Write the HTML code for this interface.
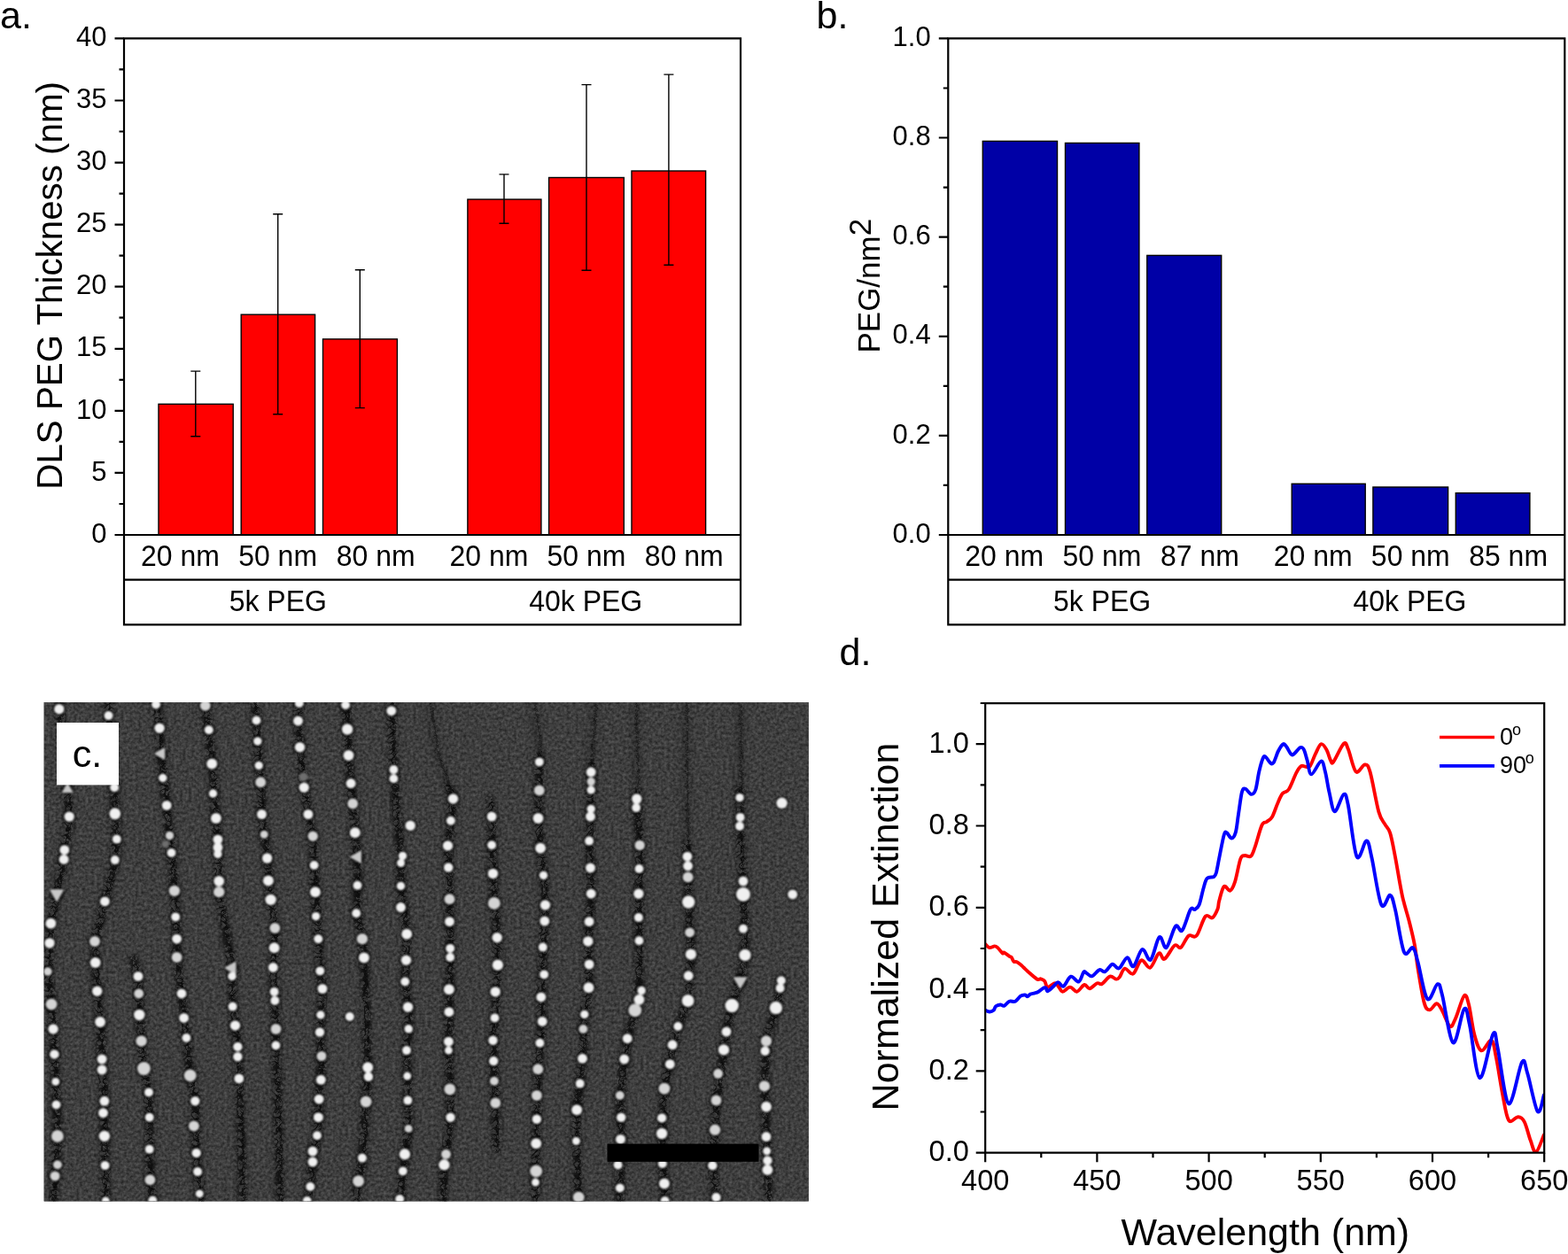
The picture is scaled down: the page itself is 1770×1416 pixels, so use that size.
<!DOCTYPE html>
<html><head><meta charset="utf-8"><title>Figure</title>
<style>html,body{margin:0;padding:0;background:#fff;} svg{display:block;} text{font-family:'Liberation Sans', Arial, sans-serif;fill:#000;}</style>
</head><body>
<svg width="1770" height="1416" viewBox="0 0 1770 1416">
<rect width="1770" height="1416" fill="#fff"/>
<g transform="translate(0,0)">
<rect x="179" y="456.3" width="84.2" height="147.7" fill="#ff0000" stroke="#000" stroke-width="1.4"/>
<rect x="272.2" y="355.2" width="83.4" height="248.8" fill="#ff0000" stroke="#000" stroke-width="1.4"/>
<rect x="364.5" y="382.9" width="83.9" height="221.1" fill="#ff0000" stroke="#000" stroke-width="1.4"/>
<rect x="527.9" y="225.1" width="83.0" height="378.9" fill="#ff0000" stroke="#000" stroke-width="1.4"/>
<rect x="619.6" y="200.5" width="84.7" height="403.5" fill="#ff0000" stroke="#000" stroke-width="1.4"/>
<rect x="713" y="193.0" width="83.6" height="411.0" fill="#ff0000" stroke="#000" stroke-width="1.4"/>
<path d="M220.8 419.1V492.8M215.3 419.1H226.3M215.3 492.8H226.3" stroke="#000" stroke-width="1.4" fill="none"/>
<path d="M313.7 241.7V467.7M308.2 241.7H319.2M308.2 467.7H319.2" stroke="#000" stroke-width="1.4" fill="none"/>
<path d="M406.3 304.7V460.6M400.8 304.7H411.8M400.8 460.6H411.8" stroke="#000" stroke-width="1.4" fill="none"/>
<path d="M569.0 196.9V252.2M563.5 196.9H574.5M563.5 252.2H574.5" stroke="#000" stroke-width="1.4" fill="none"/>
<path d="M662.0 95.6V305.3M656.5 95.6H667.5M656.5 305.3H667.5" stroke="#000" stroke-width="1.4" fill="none"/>
<path d="M754.9 84.1V299.3M749.4 84.1H760.4M749.4 299.3H760.4" stroke="#000" stroke-width="1.4" fill="none"/>
<path d="M140.0 43.4H836.0V705.3H140.0Z M140.0 604.0H836.0 M140.0 654.6H836.0" stroke="#000" stroke-width="2.2" fill="none" stroke-linecap="square"/>
<path d="M129.5 604.0H140.0M129.5 533.9H140.0M129.5 463.9H140.0M129.5 393.8H140.0M129.5 323.7H140.0M129.5 253.6H140.0M129.5 183.6H140.0M129.5 113.5H140.0M129.5 43.4H140.0M134.5 569.0H140.0M134.5 498.9H140.0M134.5 428.8H140.0M134.5 358.7H140.0M134.5 288.7H140.0M134.5 218.6H140.0M134.5 148.5H140.0M134.5 78.4H140.0" stroke="#000" stroke-width="2.2" fill="none"/>
<text transform="translate(120.4,612.6) scale(1,1.035)" text-anchor="end" font-size="31">0</text>
<text transform="translate(120.4,542.5) scale(1,1.035)" text-anchor="end" font-size="31">5</text>
<text transform="translate(120.4,472.5) scale(1,1.035)" text-anchor="end" font-size="31">10</text>
<text transform="translate(120.4,402.4) scale(1,1.035)" text-anchor="end" font-size="31">15</text>
<text transform="translate(120.4,332.3) scale(1,1.035)" text-anchor="end" font-size="31">20</text>
<text transform="translate(120.4,262.2) scale(1,1.035)" text-anchor="end" font-size="31">25</text>
<text transform="translate(120.4,192.2) scale(1,1.035)" text-anchor="end" font-size="31">30</text>
<text transform="translate(120.4,122.1) scale(1,1.035)" text-anchor="end" font-size="31">35</text>
<text transform="translate(120.4,52.0) scale(1,1.035)" text-anchor="end" font-size="31">40</text>
<text transform="translate(203.4,639.3) scale(1,1.025)" text-anchor="middle" font-size="32">20 nm</text>
<text transform="translate(313.6,639.3) scale(1,1.025)" text-anchor="middle" font-size="32">50 nm</text>
<text transform="translate(424.2,639.3) scale(1,1.025)" text-anchor="middle" font-size="32">80 nm</text>
<text transform="translate(551.9,639.3) scale(1,1.025)" text-anchor="middle" font-size="32">20 nm</text>
<text transform="translate(662.0,639.3) scale(1,1.025)" text-anchor="middle" font-size="32">50 nm</text>
<text transform="translate(772.3,639.3) scale(1,1.025)" text-anchor="middle" font-size="32">80 nm</text>
<text transform="translate(313.8,689.8) scale(1,1.03)" text-anchor="middle" font-size="32">5k PEG</text>
<text transform="translate(661.2,689.8) scale(1,1.03)" text-anchor="middle" font-size="32">40k PEG</text>
</g>
<g transform="translate(930.3,0)">
<rect x="179" y="159.4" width="84.2" height="444.6" fill="#0000a6" stroke="#000" stroke-width="1.4"/>
<rect x="272.2" y="161.5" width="83.4" height="442.5" fill="#0000a6" stroke="#000" stroke-width="1.4"/>
<rect x="364.5" y="288.4" width="83.9" height="315.6" fill="#0000a6" stroke="#000" stroke-width="1.4"/>
<rect x="527.9" y="546.3" width="83.0" height="57.7" fill="#0000a6" stroke="#000" stroke-width="1.4"/>
<rect x="619.6" y="550.0" width="84.7" height="54.0" fill="#0000a6" stroke="#000" stroke-width="1.4"/>
<rect x="713" y="556.7" width="83.6" height="47.3" fill="#0000a6" stroke="#000" stroke-width="1.4"/>
<path d="M140.0 43.4H836.0V705.3H140.0Z M140.0 604.0H836.0 M140.0 654.6H836.0" stroke="#000" stroke-width="2.2" fill="none" stroke-linecap="square"/>
<path d="M129.5 604.0H140.0M129.5 491.9H140.0M129.5 379.8H140.0M129.5 267.6H140.0M129.5 155.5H140.0M129.5 43.4H140.0M134.5 547.9H140.0M134.5 435.8H140.0M134.5 323.7H140.0M134.5 211.6H140.0M134.5 99.5H140.0" stroke="#000" stroke-width="2.2" fill="none"/>
<text transform="translate(120.4,612.6) scale(1,1.035)" text-anchor="end" font-size="31">0.0</text>
<text transform="translate(120.4,500.5) scale(1,1.035)" text-anchor="end" font-size="31">0.2</text>
<text transform="translate(120.4,388.4) scale(1,1.035)" text-anchor="end" font-size="31">0.4</text>
<text transform="translate(120.4,276.2) scale(1,1.035)" text-anchor="end" font-size="31">0.6</text>
<text transform="translate(120.4,164.1) scale(1,1.035)" text-anchor="end" font-size="31">0.8</text>
<text transform="translate(120.4,52.0) scale(1,1.035)" text-anchor="end" font-size="31">1.0</text>
<text transform="translate(203.4,639.3) scale(1,1.025)" text-anchor="middle" font-size="32">20 nm</text>
<text transform="translate(313.6,639.3) scale(1,1.025)" text-anchor="middle" font-size="32">50 nm</text>
<text transform="translate(424.2,639.3) scale(1,1.025)" text-anchor="middle" font-size="32">87 nm</text>
<text transform="translate(551.9,639.3) scale(1,1.025)" text-anchor="middle" font-size="32">20 nm</text>
<text transform="translate(662.0,639.3) scale(1,1.025)" text-anchor="middle" font-size="32">50 nm</text>
<text transform="translate(772.3,639.3) scale(1,1.025)" text-anchor="middle" font-size="32">85 nm</text>
<text transform="translate(313.8,689.8) scale(1,1.03)" text-anchor="middle" font-size="32">5k PEG</text>
<text transform="translate(661.2,689.8) scale(1,1.03)" text-anchor="middle" font-size="32">40k PEG</text>
</g>
<text transform="translate(69.9,322.4) rotate(-90)" text-anchor="middle" font-size="40.3">DLS PEG Thickness (nm)</text>
<text transform="translate(993.4,322.7) rotate(-90)" text-anchor="middle" font-size="35">PEG/nm<tspan dy="-10.5">2</tspan></text>
<text x="0" y="31.7" font-size="43">a.</text>
<text x="921.5" y="32" font-size="43">b.</text>
<text x="947.6" y="751.3" font-size="43">d.</text>
<path d="M1101.7 1301.7H1112.2M1101.7 1209.4H1112.2M1101.7 1117.1H1112.2M1101.7 1024.8H1112.2M1101.7 932.5H1112.2M1101.7 840.2H1112.2M1106.7 1255.5H1112.2M1106.7 1163.2H1112.2M1106.7 1071.0H1112.2M1106.7 978.7H1112.2M1106.7 886.4H1112.2M1106.7 794.0H1112.2M1112.2 1301.7V1312.2M1238.4 1301.7V1312.2M1364.6 1301.7V1312.2M1490.8 1301.7V1312.2M1617.0 1301.7V1312.2M1743.2 1301.7V1312.2M1175.3 1301.7V1307.2M1301.5 1301.7V1307.2M1427.7 1301.7V1307.2M1553.9 1301.7V1307.2M1680.1 1301.7V1307.2" stroke="#000" stroke-width="2.2" fill="none"/>
<text transform="translate(1093.9,1311.1) scale(1,1.035)" text-anchor="end" font-size="32.6">0.0</text>
<text transform="translate(1093.9,1218.8) scale(1,1.035)" text-anchor="end" font-size="32.6">0.2</text>
<text transform="translate(1093.9,1126.5) scale(1,1.035)" text-anchor="end" font-size="32.6">0.4</text>
<text transform="translate(1093.9,1034.2) scale(1,1.035)" text-anchor="end" font-size="32.6">0.6</text>
<text transform="translate(1093.9,941.9) scale(1,1.035)" text-anchor="end" font-size="32.6">0.8</text>
<text transform="translate(1093.9,849.6) scale(1,1.035)" text-anchor="end" font-size="32.6">1.0</text>
<text transform="translate(1112.2,1344.3) scale(1,1.035)" text-anchor="middle" font-size="32.6">400</text>
<text transform="translate(1238.4,1344.3) scale(1,1.035)" text-anchor="middle" font-size="32.6">450</text>
<text transform="translate(1364.6,1344.3) scale(1,1.035)" text-anchor="middle" font-size="32.6">500</text>
<text transform="translate(1490.8,1344.3) scale(1,1.035)" text-anchor="middle" font-size="32.6">550</text>
<text transform="translate(1617.0,1344.3) scale(1,1.035)" text-anchor="middle" font-size="32.6">600</text>
<text transform="translate(1743.2,1344.3) scale(1,1.035)" text-anchor="middle" font-size="32.6">650</text>
<text transform="translate(1014.2,1046.5) rotate(-90)" text-anchor="middle" font-size="43">Normalized Extinction</text>
<text x="1428.3" y="1406" text-anchor="middle" font-size="43">Wavelength (nm)</text>
<clipPath id="dclip"><rect x="1112" y="794" width="631.2" height="507.7"/></clipPath><g clip-path="url(#dclip)" fill="none" stroke-width="3.9" stroke-linejoin="round" stroke-linecap="round"><path d="M1111.8 1065.8C1112.7 1066.5 1115.1 1069.7 1116.9 1070.1C1118.7 1070.5 1121.2 1068.4 1122.8 1068.4C1124.3 1068.4 1124.7 1068.8 1126.2 1070.1C1127.7 1071.4 1130.5 1075.5 1131.7 1076.4C1132.9 1077.3 1132.1 1075.0 1133.4 1075.6C1134.7 1076.2 1138.0 1078.9 1139.4 1079.8C1140.8 1080.7 1141.1 1080.1 1141.9 1081.1C1142.7 1082.1 1143.4 1084.9 1144.4 1085.8C1145.4 1086.7 1146.5 1085.6 1147.8 1086.2C1149.1 1086.8 1150.8 1088.2 1152.1 1089.2C1153.4 1090.2 1154.1 1091.2 1155.5 1092.5C1156.9 1093.8 1158.0 1095.0 1160.5 1097.2C1163.0 1099.4 1168.3 1104.4 1170.7 1105.7C1173.1 1107.0 1173.5 1105.0 1174.9 1105.3C1176.3 1105.6 1177.9 1106.2 1179.2 1107.8C1180.5 1109.3 1180.6 1114.2 1182.6 1114.6C1184.6 1115.0 1189.0 1110.3 1191.1 1110.3C1193.2 1110.3 1193.9 1113.0 1195.3 1114.6C1196.7 1116.2 1197.4 1119.7 1199.5 1119.7C1201.6 1119.7 1205.3 1114.6 1208.0 1114.6C1210.7 1114.6 1212.9 1120.1 1215.6 1119.7C1218.3 1119.3 1221.7 1112.6 1224.1 1112.0C1226.5 1111.4 1227.6 1116.6 1230.0 1116.3C1232.4 1116.0 1236.2 1111.2 1238.5 1110.3C1240.8 1109.4 1241.6 1112.3 1244.0 1111.0C1246.4 1109.7 1250.3 1103.5 1252.9 1102.6C1255.5 1101.7 1258.0 1105.4 1259.8 1105.6C1261.6 1105.8 1262.0 1105.6 1263.7 1103.6C1265.4 1101.6 1267.1 1094.4 1269.7 1093.7C1272.3 1093.0 1276.0 1101.2 1279.1 1099.6C1282.2 1098.0 1285.2 1085.4 1288.4 1084.3C1291.6 1083.2 1295.0 1094.0 1298.3 1092.7C1301.6 1091.4 1305.5 1078.1 1308.2 1076.4C1310.9 1074.8 1311.6 1084.3 1314.6 1082.8C1317.6 1081.3 1323.0 1069.6 1326.0 1067.5C1329.0 1065.4 1330.3 1071.8 1332.9 1070.0C1335.5 1068.2 1338.8 1058.8 1341.8 1056.6C1344.8 1054.4 1347.6 1060.2 1350.7 1056.6C1353.8 1053.0 1357.6 1038.3 1360.6 1034.9C1363.6 1031.5 1366.2 1037.8 1368.5 1036.4C1370.8 1035.0 1373.2 1029.7 1374.5 1026.5C1375.8 1023.3 1375.0 1021.5 1376.2 1017.3C1377.4 1013.0 1379.6 1002.9 1381.7 1001.0C1383.8 999.1 1386.5 1006.6 1388.6 1005.7C1390.7 1004.8 1392.1 1001.6 1394.1 995.6C1396.0 989.6 1398.5 974.8 1400.3 969.9C1402.1 965.0 1403.0 966.6 1405.0 966.1C1407.0 965.6 1410.1 968.4 1412.0 966.8C1413.9 965.2 1414.5 962.5 1416.6 956.7C1418.7 950.9 1422.2 936.7 1424.4 931.9C1426.6 927.1 1427.9 929.6 1429.8 928.0C1431.7 926.4 1433.9 926.0 1436.0 922.5C1438.1 919.0 1440.3 911.4 1442.3 907.0C1444.2 902.6 1445.6 898.7 1447.7 896.1C1449.8 893.5 1452.1 895.4 1454.7 891.5C1457.3 887.6 1460.9 877.2 1463.2 872.8C1465.5 868.4 1466.9 866.3 1468.7 865.1C1470.5 863.9 1472.4 865.8 1474.1 865.8C1475.8 865.8 1477.0 867.5 1478.8 865.1C1480.6 862.7 1482.9 855.2 1485.0 851.1C1487.1 847.0 1489.1 841.0 1491.2 840.2C1493.3 839.4 1495.6 843.3 1497.4 846.4C1499.2 849.5 1500.8 856.5 1502.1 858.8C1503.4 861.1 1502.8 863.6 1505.2 860.4C1507.7 857.2 1514.0 842.2 1516.8 839.8C1519.6 837.3 1519.5 840.4 1521.8 845.7C1524.1 851.0 1527.5 868.4 1530.6 871.4C1533.7 874.4 1537.8 863.5 1540.5 863.5C1543.2 863.5 1543.8 862.5 1546.5 871.4C1549.2 880.3 1553.6 907.0 1556.4 916.9C1559.2 926.8 1561.2 926.8 1563.3 930.7C1565.4 934.7 1567.2 934.3 1569.2 940.6C1571.2 946.9 1572.8 956.4 1575.1 968.3C1577.4 980.2 1580.3 999.6 1583.0 1011.8C1585.7 1024.0 1588.7 1032.3 1591.0 1041.5C1593.3 1050.7 1595.3 1058.5 1596.9 1067.2C1598.5 1075.9 1598.8 1082.7 1600.6 1093.6C1602.4 1104.5 1605.5 1124.6 1607.7 1132.4C1609.9 1140.2 1611.5 1140.2 1613.8 1140.4C1616.1 1140.6 1619.4 1133.2 1621.8 1133.3C1624.2 1133.4 1625.5 1136.9 1628.0 1141.2C1630.5 1145.5 1634.3 1157.4 1636.8 1158.9C1639.3 1160.4 1640.3 1155.8 1643.0 1150.1C1645.7 1144.4 1650.2 1127.2 1652.7 1124.5C1655.2 1121.8 1656.1 1127.0 1658.0 1134.2C1659.9 1141.4 1661.9 1159.0 1664.2 1167.7C1666.5 1176.4 1668.9 1185.1 1672.1 1186.3C1675.3 1187.5 1680.8 1173.5 1683.6 1174.8C1686.4 1176.1 1686.8 1184.2 1688.9 1194.2C1691.0 1204.2 1693.7 1223.0 1696.0 1234.8C1698.3 1246.6 1700.1 1260.5 1703.0 1264.9C1705.9 1269.3 1710.6 1261.0 1713.6 1261.3C1716.5 1261.6 1718.3 1262.2 1720.7 1266.6C1723.1 1271.0 1725.5 1282.1 1727.7 1287.8C1729.9 1293.5 1731.4 1302.0 1733.9 1301.0C1736.4 1300.0 1741.3 1284.8 1742.8 1281.6" stroke="#ff0000"/><path d="M1111.8 1140.4C1112.7 1140.8 1115.3 1142.4 1116.9 1142.5C1118.5 1142.6 1120.4 1141.8 1121.6 1140.8C1122.8 1139.8 1122.8 1137.2 1124.1 1136.2C1125.4 1135.2 1127.7 1134.6 1129.2 1134.5C1130.8 1134.4 1131.7 1136.4 1133.4 1135.8C1135.1 1135.2 1137.3 1131.5 1139.4 1130.7C1141.5 1129.9 1144.0 1131.7 1146.1 1130.7C1148.2 1129.7 1150.2 1125.9 1152.1 1124.7C1153.9 1123.5 1155.9 1123.4 1157.2 1123.5C1158.5 1123.6 1158.7 1125.4 1159.7 1125.2C1160.7 1125.0 1161.7 1123.2 1163.1 1122.6C1164.5 1122.0 1166.7 1121.9 1168.2 1121.4C1169.8 1120.9 1170.7 1120.7 1172.4 1119.7C1174.1 1118.7 1176.9 1116.1 1178.3 1115.4C1179.7 1114.8 1180.1 1115.2 1180.8 1115.8C1181.5 1116.4 1181.3 1119.4 1182.6 1119.2C1183.9 1119.0 1186.5 1116.3 1188.5 1114.6C1190.5 1112.9 1192.4 1109.2 1194.4 1109.1C1196.4 1108.9 1198.0 1114.8 1200.4 1113.7C1202.8 1112.6 1205.9 1103.6 1208.8 1102.7C1211.7 1101.8 1215.3 1109.4 1217.7 1108.6C1220.1 1107.8 1221.8 1099.2 1223.3 1097.6C1224.8 1096.0 1225.0 1098.1 1226.6 1098.9C1228.1 1099.7 1230.2 1102.9 1232.6 1102.3C1235.0 1101.7 1238.6 1095.9 1241.1 1095.1C1243.6 1094.2 1245.0 1098.2 1247.4 1097.2C1249.8 1096.2 1253.1 1089.5 1255.3 1088.8C1257.5 1088.0 1259.3 1092.0 1260.8 1092.7C1262.3 1093.4 1262.2 1094.6 1264.2 1092.7C1266.2 1090.8 1270.0 1081.5 1272.6 1081.3C1275.1 1081.0 1276.7 1092.8 1279.5 1091.2C1282.3 1089.7 1286.2 1073.2 1289.4 1072.0C1292.6 1070.8 1295.6 1086.1 1298.8 1083.8C1302.0 1081.5 1305.7 1060.4 1308.7 1058.1C1311.7 1055.8 1313.5 1072.0 1316.6 1070.0C1319.6 1068.0 1324.0 1049.0 1327.0 1045.8C1330.0 1042.6 1331.6 1053.8 1334.4 1050.7C1337.2 1047.6 1341.4 1031.0 1343.8 1027.0C1346.2 1023.0 1347.1 1027.9 1348.8 1027.0C1350.5 1026.1 1352.1 1025.5 1353.7 1021.5C1355.3 1017.5 1357.1 1007.6 1358.6 1002.7C1360.1 997.8 1360.6 994.0 1362.6 991.9C1364.6 989.8 1368.8 991.1 1370.5 989.9C1372.2 988.7 1372.1 988.2 1373.1 984.7C1374.0 981.2 1374.8 976.2 1376.2 969.2C1377.6 962.2 1380.3 947.5 1381.7 942.7C1383.1 937.9 1383.4 939.8 1384.8 940.4C1386.2 941.0 1388.5 946.7 1390.2 946.6C1391.9 946.5 1393.6 944.1 1394.9 939.6C1396.2 935.1 1396.8 926.9 1398.0 919.4C1399.2 911.9 1400.6 899.4 1401.9 894.6C1403.2 889.8 1403.9 890.3 1405.7 890.7C1407.5 891.1 1410.8 896.8 1412.7 896.9C1414.7 897.0 1416.0 895.8 1417.4 891.5C1418.8 887.2 1419.9 877.3 1421.3 871.3C1422.7 865.3 1424.6 858.4 1425.9 855.7C1427.2 853.0 1427.7 854.1 1429.0 855.0C1430.3 855.9 1432.3 860.2 1433.7 861.2C1435.1 862.2 1436.0 863.4 1437.6 861.2C1439.1 859.0 1441.2 851.5 1443.0 848.0C1444.8 844.5 1447.0 841.0 1448.5 840.2C1450.0 839.4 1450.9 841.5 1452.3 843.3C1453.7 845.1 1455.7 849.7 1457.0 851.1C1458.3 852.5 1458.3 853.1 1460.1 851.9C1461.9 850.7 1466.0 845.0 1467.9 844.1C1469.9 843.2 1470.5 844.0 1471.8 846.4C1473.1 848.8 1474.3 854.1 1475.7 858.8C1477.1 863.5 1477.7 874.3 1480.3 874.4C1482.9 874.5 1488.6 860.1 1491.2 859.6C1493.8 859.1 1494.4 865.5 1495.9 871.3C1497.5 877.1 1498.7 887.1 1500.5 894.6C1502.3 902.1 1504.0 915.9 1506.7 916.3C1509.4 916.7 1514.3 898.3 1516.8 897.1C1519.3 895.9 1519.3 897.3 1521.8 909.0C1524.3 920.7 1528.1 960.5 1531.6 967.3C1535.0 974.0 1539.7 949.3 1542.5 949.5C1545.3 949.7 1545.6 956.3 1548.4 968.3C1551.2 980.3 1555.8 1014.6 1559.3 1021.7C1562.8 1028.8 1566.6 1009.8 1569.2 1010.8C1571.8 1011.8 1572.5 1016.9 1575.1 1027.6C1577.7 1038.3 1581.7 1068.0 1585.0 1075.1C1588.3 1082.2 1592.3 1068.2 1594.9 1070.1C1597.5 1072.0 1597.9 1076.8 1600.6 1086.5C1603.3 1096.2 1607.5 1123.9 1611.2 1128.0C1614.9 1132.1 1619.9 1111.9 1622.7 1111.2C1625.5 1110.5 1625.1 1112.6 1628.0 1123.6C1630.9 1134.6 1636.2 1174.8 1640.3 1177.4C1644.4 1180.1 1649.6 1142.9 1652.7 1139.5C1655.8 1136.1 1656.0 1144.1 1658.9 1157.1C1661.9 1170.0 1666.0 1215.4 1670.4 1217.2C1674.8 1219.0 1682.0 1173.3 1685.4 1167.7C1688.8 1162.1 1687.8 1170.5 1690.7 1183.6C1693.6 1196.7 1698.5 1243.6 1703.0 1246.3C1707.5 1249.0 1714.5 1205.2 1718.0 1199.5C1721.5 1193.8 1721.2 1202.6 1724.2 1211.9C1727.2 1221.2 1732.6 1251.0 1735.7 1255.1C1738.8 1259.2 1741.6 1239.7 1742.8 1236.6" stroke="#0000ff"/></g>
<path d="M1112.2 794.05H1743.2V1301.7H1112.2Z" stroke="#000" stroke-width="2.2" fill="none"/>
<path d="M1625 832.5H1687" stroke="#ff0000" stroke-width="3.6"/>
<path d="M1625 864.9H1687" stroke="#0000ff" stroke-width="3.6"/>
<text x="1693" y="841" font-size="27">0<tspan font-size="18" dx="-1" dy="-11">o</tspan></text>
<text x="1693" y="873.2" font-size="27">90<tspan font-size="18" dx="-1.2" dy="-11">o</tspan></text>
<defs>
<clipPath id="semclip"><rect x="49.6" y="793.0" width="863.2" height="563.6"/></clipPath>
<filter id="grain" x="0" y="0" width="100%" height="100%" color-interpolation-filters="sRGB"><feTurbulence type="fractalNoise" baseFrequency="0.3" numOctaves="2" seed="11"/><feColorMatrix type="matrix" values="0.28 0 0 0 0.105  0.28 0 0 0 0.105  0.28 0 0 0 0.105  0 0 0 0 1"/><feGaussianBlur stdDeviation="0.45"/></filter>
<filter id="crk" x="-10%" y="-2%" width="120%" height="104%" color-interpolation-filters="sRGB"><feTurbulence type="turbulence" baseFrequency="0.16" numOctaves="1" seed="9" result="n"/><feColorMatrix in="n" type="matrix" values="0 0 0 0 0  0 0 0 0 0  0 0 0 0 0  -18 0 0 0 2.7" result="nb"/><feGaussianBlur in="SourceAlpha" stdDeviation="2.5" result="m"/><feComposite in="nb" in2="m" operator="in" result="b"/><feGaussianBlur in="b" stdDeviation="0.75"/></filter>
<filter id="jag" x="-5%" y="-1%" width="110%" height="102%" color-interpolation-filters="sRGB"><feTurbulence type="turbulence" baseFrequency="0.3" numOctaves="2" seed="4" result="n"/><feDisplacementMap in="SourceGraphic" in2="n" scale="7" xChannelSelector="R" yChannelSelector="G"/></filter>
<filter id="streak" x="-20%" y="-2%" width="140%" height="104%"><feGaussianBlur stdDeviation="4 8"/></filter>
<filter id="soft" color-interpolation-filters="sRGB"><feGaussianBlur stdDeviation="0.8"/></filter>
<filter id="halo" color-interpolation-filters="sRGB"><feGaussianBlur stdDeviation="1.1"/></filter>
</defs>
<g clip-path="url(#semclip)">
<rect x="49.6" y="793.0" width="863.2" height="563.6" fill="#363636"/>
<rect x="49.6" y="793.0" width="863.2" height="563.6" filter="url(#grain)"/>
<g filter="url(#streak)" fill="none" stroke="#000" stroke-width="8" opacity="0.24"><path d="M66.0 793.0 L66.8 800.0 L76.0 891.0 L78.2 922.0 L72.8 960.0 L64.0 1009.0 L57.4 1043.0 L56.0 1065.0 L54.0 1097.0 L58.0 1134.0 L60.0 1162.0 L61.4 1190.0 L63.5 1247.0 L65.0 1283.0 L62.0 1328.0 L60.0 1357.0"/><path d="M122.0 793.0 L122.5 808.0 L129.2 889.0 L129.8 919.0 L131.8 948.0 L129.8 971.0 L118.4 1018.0 L107.0 1063.0 L107.7 1087.0 L109.7 1119.0 L113.0 1154.0 L115.0 1196.0 L117.9 1243.0 L117.9 1283.0 L118.6 1316.0 L119.3 1357.0"/><path d="M176.0 793.0 L180.0 822.0 L182.0 851.0 L188.0 909.0 L191.5 944.0 L193.5 963.0 L196.9 1006.0 L199.6 1060.0 L199.6 1081.0 L205.0 1122.0 L207.6 1149.0 L210.4 1172.0 L214.7 1214.0 L220.3 1243.0 L221.7 1302.0 L225.3 1348.0 L226.0 1357.0"/><path d="M150.0 1080.0 L156.0 1102.0 L157.3 1146.0 L159.6 1175.0 L162.4 1207.0 L168.0 1233.0 L168.7 1298.0 L169.4 1332.0 L172.3 1357.0"/><path d="M231.0 793.0 L235.8 824.0 L239.2 862.0 L243.9 924.0 L245.9 964.0 L247.2 1007.0 L262.0 1093.0 L262.6 1137.0 L265.5 1158.0 L268.4 1182.0 L269.8 1218.0 L272.0 1280.0 L274.0 1357.0"/><path d="M288.0 793.0 L289.5 813.0 L290.8 837.0 L294.2 883.0 L295.5 919.0 L301.6 969.0 L305.6 1016.0 L310.3 1048.0 L309.6 1070.0 L308.3 1092.0 L310.3 1130.0 L311.5 1162.0 L311.4 1180.0 L314.0 1260.0 L316.0 1357.0"/><path d="M337.8 793.0 L336.5 814.0 L338.5 844.0 L343.2 889.0 L347.9 919.0 L353.2 944.0 L354.6 977.0 L355.9 1007.0 L359.3 1060.0 L361.3 1096.0 L364.0 1116.0 L361.9 1146.0 L361.0 1165.0 L363.0 1192.0 L360.1 1241.0 L358.0 1282.0 L353.0 1306.0 L350.3 1340.0 L346.7 1357.0"/><path d="M390.0 793.0 L392.1 823.0 L393.5 853.0 L398.2 907.0 L400.8 940.0 L403.5 968.0 L403.5 1000.0 L402.2 1031.0 L408.9 1060.0 L410.9 1082.0 L413.0 1140.0 L415.2 1205.0 L413.1 1244.0 L408.9 1308.0 L404.6 1334.0 L402.0 1357.0"/><path d="M441.0 793.0 L441.8 803.0 L444.4 869.0 L448.0 920.0 L452.5 975.0 L452.5 1000.0 L459.2 1055.0 L458.5 1084.0 L457.2 1108.0 L460.5 1137.0 L461.2 1162.0 L459.0 1186.0 L460.4 1243.0 L461.1 1274.0 L456.9 1303.0 L451.2 1357.0"/><path d="M505.0 885.0 L511.5 902.0 L508.9 927.0 L505.5 955.0 L506.2 980.0 L507.5 1015.0 L508.2 1081.0 L506.9 1143.0 L506.4 1176.0 L507.8 1230.0 L508.5 1262.0 L501.4 1315.0 L500.0 1357.0"/><path d="M553.0 900.0 L555.1 922.0 L555.1 954.0 L556.5 986.0 L561.2 1059.0 L561.9 1090.0 L558.5 1149.0 L556.5 1175.0 L559.3 1245.0 L560.0 1300.0"/><path d="M608.5 850.0 L608.8 860.0 L607.5 924.0 L610.1 958.0 L613.5 988.0 L615.5 1022.0 L612.8 1070.0 L610.8 1126.0 L612.2 1153.0 L609.4 1178.0 L605.9 1237.0 L605.2 1291.0 L604.5 1335.0 L604.0 1357.0"/><path d="M667.0 860.0 L667.2 872.0 L666.5 922.0 L665.1 950.0 L666.5 980.0 L667.2 1009.0 L663.8 1063.0 L664.5 1115.0 L659.8 1145.0 L657.5 1195.0 L651.1 1253.0 L650.4 1288.0 L653.2 1357.0"/><path d="M718.8 890.0 L718.8 902.0 L722.2 954.0 L721.5 981.0 L720.9 1009.0 L721.5 1062.0 L721.5 1129.0 L716.8 1141.0 L708.2 1173.0 L704.7 1196.0 L699.8 1237.0 L700.5 1286.0 L699.8 1341.5 L699.0 1357.0"/><path d="M775.0 950.0 L775.9 967.0 L776.6 990.0 L777.2 1019.0 L779.9 1078.0 L776.6 1130.0 L765.3 1159.0 L759.1 1180.0 L749.9 1229.0 L747.1 1280.0 L749.9 1336.5 L750.6 1357.0"/><path d="M835.0 888.0 L835.0 901.0 L835.0 933.0 L839.0 1010.0 L841.0 1078.0 L835.6 1108.0 L826.2 1135.0 L820.0 1165.0 L817.0 1185.0 L808.5 1243.0 L807.1 1276.0 L804.3 1316.0 L808.5 1357.0"/><path d="M881.9 1102.0 L880.6 1116.0 L875.9 1138.0 L865.0 1175.5 L862.9 1226.0 L865.0 1284.0 L866.4 1321.0 L867.0 1357.0"/><path d="M602.0 793.0 L606.0 820.0 L608.5 850.0"/><path d="M485.0 793.0 L493.0 850.0 L505.0 885.0 L511.5 902.0"/><path d="M671.0 793.0 L669.0 830.0 L667.0 860.0"/><path d="M717.0 793.0 L718.0 850.0 L718.8 890.0"/><path d="M773.5 793.0 L774.0 880.0 L775.0 950.0"/><path d="M835.0 793.0 L835.0 850.0 L835.0 888.0"/></g>
<g filter="url(#jag)" fill="none" stroke="#000" stroke-width="2.5" opacity="0.35"><path d="M602.0 793.0 L606.0 820.0 L608.5 850.0"/><path d="M485.0 793.0 L493.0 850.0 L505.0 885.0 L511.5 902.0"/><path d="M671.0 793.0 L669.0 830.0 L667.0 860.0"/><path d="M717.0 793.0 L718.0 850.0 L718.8 890.0"/><path d="M773.5 793.0 L774.0 880.0 L775.0 950.0"/><path d="M835.0 793.0 L835.0 850.0 L835.0 888.0"/></g>
<g filter="url(#crk)" fill="none" stroke="#000" stroke-width="10" opacity="0.68"><path d="M66.0 793.0 L66.8 800.0 L76.0 891.0 L78.2 922.0 L72.8 960.0 L64.0 1009.0 L57.4 1043.0 L56.0 1065.0 L54.0 1097.0 L58.0 1134.0 L60.0 1162.0 L61.4 1190.0 L63.5 1247.0 L65.0 1283.0 L62.0 1328.0 L60.0 1357.0"/><path d="M122.0 793.0 L122.5 808.0 L129.2 889.0 L129.8 919.0 L131.8 948.0 L129.8 971.0 L118.4 1018.0 L107.0 1063.0 L107.7 1087.0 L109.7 1119.0 L113.0 1154.0 L115.0 1196.0 L117.9 1243.0 L117.9 1283.0 L118.6 1316.0 L119.3 1357.0"/><path d="M176.0 793.0 L180.0 822.0 L182.0 851.0 L188.0 909.0 L191.5 944.0 L193.5 963.0 L196.9 1006.0 L199.6 1060.0 L199.6 1081.0 L205.0 1122.0 L207.6 1149.0 L210.4 1172.0 L214.7 1214.0 L220.3 1243.0 L221.7 1302.0 L225.3 1348.0 L226.0 1357.0"/><path d="M150.0 1080.0 L156.0 1102.0 L157.3 1146.0 L159.6 1175.0 L162.4 1207.0 L168.0 1233.0 L168.7 1298.0 L169.4 1332.0 L172.3 1357.0"/><path d="M231.0 793.0 L235.8 824.0 L239.2 862.0 L243.9 924.0 L245.9 964.0 L247.2 1007.0 L262.0 1093.0 L262.6 1137.0 L265.5 1158.0 L268.4 1182.0 L269.8 1218.0 L272.0 1280.0 L274.0 1357.0"/><path d="M288.0 793.0 L289.5 813.0 L290.8 837.0 L294.2 883.0 L295.5 919.0 L301.6 969.0 L305.6 1016.0 L310.3 1048.0 L309.6 1070.0 L308.3 1092.0 L310.3 1130.0 L311.5 1162.0 L311.4 1180.0 L314.0 1260.0 L316.0 1357.0"/><path d="M337.8 793.0 L336.5 814.0 L338.5 844.0 L343.2 889.0 L347.9 919.0 L353.2 944.0 L354.6 977.0 L355.9 1007.0 L359.3 1060.0 L361.3 1096.0 L364.0 1116.0 L361.9 1146.0 L361.0 1165.0 L363.0 1192.0 L360.1 1241.0 L358.0 1282.0 L353.0 1306.0 L350.3 1340.0 L346.7 1357.0"/><path d="M390.0 793.0 L392.1 823.0 L393.5 853.0 L398.2 907.0 L400.8 940.0 L403.5 968.0 L403.5 1000.0 L402.2 1031.0 L408.9 1060.0 L410.9 1082.0 L413.0 1140.0 L415.2 1205.0 L413.1 1244.0 L408.9 1308.0 L404.6 1334.0 L402.0 1357.0"/><path d="M441.0 793.0 L441.8 803.0 L444.4 869.0 L448.0 920.0 L452.5 975.0 L452.5 1000.0 L459.2 1055.0 L458.5 1084.0 L457.2 1108.0 L460.5 1137.0 L461.2 1162.0 L459.0 1186.0 L460.4 1243.0 L461.1 1274.0 L456.9 1303.0 L451.2 1357.0"/><path d="M505.0 885.0 L511.5 902.0 L508.9 927.0 L505.5 955.0 L506.2 980.0 L507.5 1015.0 L508.2 1081.0 L506.9 1143.0 L506.4 1176.0 L507.8 1230.0 L508.5 1262.0 L501.4 1315.0 L500.0 1357.0"/><path d="M553.0 900.0 L555.1 922.0 L555.1 954.0 L556.5 986.0 L561.2 1059.0 L561.9 1090.0 L558.5 1149.0 L556.5 1175.0 L559.3 1245.0 L560.0 1300.0"/><path d="M608.5 850.0 L608.8 860.0 L607.5 924.0 L610.1 958.0 L613.5 988.0 L615.5 1022.0 L612.8 1070.0 L610.8 1126.0 L612.2 1153.0 L609.4 1178.0 L605.9 1237.0 L605.2 1291.0 L604.5 1335.0 L604.0 1357.0"/><path d="M667.0 860.0 L667.2 872.0 L666.5 922.0 L665.1 950.0 L666.5 980.0 L667.2 1009.0 L663.8 1063.0 L664.5 1115.0 L659.8 1145.0 L657.5 1195.0 L651.1 1253.0 L650.4 1288.0 L653.2 1357.0"/><path d="M718.8 890.0 L718.8 902.0 L722.2 954.0 L721.5 981.0 L720.9 1009.0 L721.5 1062.0 L721.5 1129.0 L716.8 1141.0 L708.2 1173.0 L704.7 1196.0 L699.8 1237.0 L700.5 1286.0 L699.8 1341.5 L699.0 1357.0"/><path d="M775.0 950.0 L775.9 967.0 L776.6 990.0 L777.2 1019.0 L779.9 1078.0 L776.6 1130.0 L765.3 1159.0 L759.1 1180.0 L749.9 1229.0 L747.1 1280.0 L749.9 1336.5 L750.6 1357.0"/><path d="M835.0 888.0 L835.0 901.0 L835.0 933.0 L839.0 1010.0 L841.0 1078.0 L835.6 1108.0 L826.2 1135.0 L820.0 1165.0 L817.0 1185.0 L808.5 1243.0 L807.1 1276.0 L804.3 1316.0 L808.5 1357.0"/><path d="M881.9 1102.0 L880.6 1116.0 L875.9 1138.0 L865.0 1175.5 L862.9 1226.0 L865.0 1284.0 L866.4 1321.0 L867.0 1357.0"/></g>
<g filter="url(#jag)" fill="none" stroke="#080808" stroke-width="2.2" stroke-dasharray="4 2.5 3 3.5" stroke-linecap="round" opacity="0.6"><path d="M66.0 793.0 L66.8 800.0 L76.0 891.0 L78.2 922.0 L72.8 960.0 L64.0 1009.0 L57.4 1043.0 L56.0 1065.0 L54.0 1097.0 L58.0 1134.0 L60.0 1162.0 L61.4 1190.0 L63.5 1247.0 L65.0 1283.0 L62.0 1328.0 L60.0 1357.0"/><path d="M122.0 793.0 L122.5 808.0 L129.2 889.0 L129.8 919.0 L131.8 948.0 L129.8 971.0 L118.4 1018.0 L107.0 1063.0 L107.7 1087.0 L109.7 1119.0 L113.0 1154.0 L115.0 1196.0 L117.9 1243.0 L117.9 1283.0 L118.6 1316.0 L119.3 1357.0"/><path d="M176.0 793.0 L180.0 822.0 L182.0 851.0 L188.0 909.0 L191.5 944.0 L193.5 963.0 L196.9 1006.0 L199.6 1060.0 L199.6 1081.0 L205.0 1122.0 L207.6 1149.0 L210.4 1172.0 L214.7 1214.0 L220.3 1243.0 L221.7 1302.0 L225.3 1348.0 L226.0 1357.0"/><path d="M150.0 1080.0 L156.0 1102.0 L157.3 1146.0 L159.6 1175.0 L162.4 1207.0 L168.0 1233.0 L168.7 1298.0 L169.4 1332.0 L172.3 1357.0"/><path d="M231.0 793.0 L235.8 824.0 L239.2 862.0 L243.9 924.0 L245.9 964.0 L247.2 1007.0 L262.0 1093.0 L262.6 1137.0 L265.5 1158.0 L268.4 1182.0 L269.8 1218.0 L272.0 1280.0 L274.0 1357.0"/><path d="M288.0 793.0 L289.5 813.0 L290.8 837.0 L294.2 883.0 L295.5 919.0 L301.6 969.0 L305.6 1016.0 L310.3 1048.0 L309.6 1070.0 L308.3 1092.0 L310.3 1130.0 L311.5 1162.0 L311.4 1180.0 L314.0 1260.0 L316.0 1357.0"/><path d="M337.8 793.0 L336.5 814.0 L338.5 844.0 L343.2 889.0 L347.9 919.0 L353.2 944.0 L354.6 977.0 L355.9 1007.0 L359.3 1060.0 L361.3 1096.0 L364.0 1116.0 L361.9 1146.0 L361.0 1165.0 L363.0 1192.0 L360.1 1241.0 L358.0 1282.0 L353.0 1306.0 L350.3 1340.0 L346.7 1357.0"/><path d="M390.0 793.0 L392.1 823.0 L393.5 853.0 L398.2 907.0 L400.8 940.0 L403.5 968.0 L403.5 1000.0 L402.2 1031.0 L408.9 1060.0 L410.9 1082.0 L413.0 1140.0 L415.2 1205.0 L413.1 1244.0 L408.9 1308.0 L404.6 1334.0 L402.0 1357.0"/><path d="M441.0 793.0 L441.8 803.0 L444.4 869.0 L448.0 920.0 L452.5 975.0 L452.5 1000.0 L459.2 1055.0 L458.5 1084.0 L457.2 1108.0 L460.5 1137.0 L461.2 1162.0 L459.0 1186.0 L460.4 1243.0 L461.1 1274.0 L456.9 1303.0 L451.2 1357.0"/><path d="M505.0 885.0 L511.5 902.0 L508.9 927.0 L505.5 955.0 L506.2 980.0 L507.5 1015.0 L508.2 1081.0 L506.9 1143.0 L506.4 1176.0 L507.8 1230.0 L508.5 1262.0 L501.4 1315.0 L500.0 1357.0"/><path d="M553.0 900.0 L555.1 922.0 L555.1 954.0 L556.5 986.0 L561.2 1059.0 L561.9 1090.0 L558.5 1149.0 L556.5 1175.0 L559.3 1245.0 L560.0 1300.0"/><path d="M608.5 850.0 L608.8 860.0 L607.5 924.0 L610.1 958.0 L613.5 988.0 L615.5 1022.0 L612.8 1070.0 L610.8 1126.0 L612.2 1153.0 L609.4 1178.0 L605.9 1237.0 L605.2 1291.0 L604.5 1335.0 L604.0 1357.0"/><path d="M667.0 860.0 L667.2 872.0 L666.5 922.0 L665.1 950.0 L666.5 980.0 L667.2 1009.0 L663.8 1063.0 L664.5 1115.0 L659.8 1145.0 L657.5 1195.0 L651.1 1253.0 L650.4 1288.0 L653.2 1357.0"/><path d="M718.8 890.0 L718.8 902.0 L722.2 954.0 L721.5 981.0 L720.9 1009.0 L721.5 1062.0 L721.5 1129.0 L716.8 1141.0 L708.2 1173.0 L704.7 1196.0 L699.8 1237.0 L700.5 1286.0 L699.8 1341.5 L699.0 1357.0"/><path d="M775.0 950.0 L775.9 967.0 L776.6 990.0 L777.2 1019.0 L779.9 1078.0 L776.6 1130.0 L765.3 1159.0 L759.1 1180.0 L749.9 1229.0 L747.1 1280.0 L749.9 1336.5 L750.6 1357.0"/><path d="M835.0 888.0 L835.0 901.0 L835.0 933.0 L839.0 1010.0 L841.0 1078.0 L835.6 1108.0 L826.2 1135.0 L820.0 1165.0 L817.0 1185.0 L808.5 1243.0 L807.1 1276.0 L804.3 1316.0 L808.5 1357.0"/><path d="M881.9 1102.0 L880.6 1116.0 L875.9 1138.0 L865.0 1175.5 L862.9 1226.0 L865.0 1284.0 L866.4 1321.0 L867.0 1357.0"/></g>
<g fill="#000" opacity="0.55" filter="url(#halo)"><circle cx="66.8" cy="800.7" r="7.9"/><circle cx="122.5" cy="808.1" r="7.2"/><circle cx="176.1" cy="795.4" r="7.2"/><circle cx="231.8" cy="796.7" r="8.2"/><circle cx="180.1" cy="822.2" r="8.0"/><circle cx="235.8" cy="824.2" r="7.2"/><circle cx="182.1" cy="851.0" r="7.7"/><circle cx="239.2" cy="862.4" r="8.2"/><circle cx="183.8" cy="878.5" r="7.0"/><circle cx="76.2" cy="891.3" r="7.2"/><circle cx="129.2" cy="889.3" r="7.2"/><circle cx="240.5" cy="896.0" r="7.0"/><circle cx="188.2" cy="909.4" r="7.7"/><circle cx="78.2" cy="922.1" r="7.9"/><circle cx="129.8" cy="918.8" r="8.7"/><circle cx="243.9" cy="924.1" r="8.2"/><circle cx="191.5" cy="943.6" r="7.0"/><circle cx="131.8" cy="947.6" r="7.2"/><circle cx="72.8" cy="959.7" r="7.7"/><circle cx="72.1" cy="970.4" r="7.7"/><circle cx="245.9" cy="948.0" r="7.7"/><circle cx="245.9" cy="957.0" r="7.7"/><circle cx="245.9" cy="964.4" r="7.0"/><circle cx="193.5" cy="963.0" r="7.2"/><circle cx="129.8" cy="971.1" r="7.2"/><circle cx="289.5" cy="813.5" r="7.2"/><circle cx="290.8" cy="837.0" r="7.0"/><circle cx="292.2" cy="864.5" r="7.0"/><circle cx="294.2" cy="883.2" r="8.2"/><circle cx="295.5" cy="919.5" r="7.7"/><circle cx="298.2" cy="942.3" r="6.7"/><circle cx="301.6" cy="969.1" r="8.0"/><circle cx="337.8" cy="794.0" r="7.2"/><circle cx="336.5" cy="814.1" r="7.7"/><circle cx="338.5" cy="843.7" r="8.0"/><circle cx="343.2" cy="889.3" r="8.0"/><circle cx="347.9" cy="919.5" r="7.7"/><circle cx="353.2" cy="944.3" r="8.0"/><circle cx="354.6" cy="977.0" r="7.2"/><circle cx="390.1" cy="796.0" r="7.2"/><circle cx="392.1" cy="823.5" r="8.4"/><circle cx="393.5" cy="853.0" r="8.2"/><circle cx="396.1" cy="884.6" r="7.7"/><circle cx="398.2" cy="907.4" r="8.2"/><circle cx="400.8" cy="940.2" r="8.2"/><circle cx="403.5" cy="967.7" r="8.2"/><circle cx="441.8" cy="802.7" r="7.7"/><circle cx="444.4" cy="869.1" r="7.2"/><circle cx="444.4" cy="879.2" r="7.2"/><circle cx="463.2" cy="932.2" r="8.0"/><circle cx="454.5" cy="966.4" r="7.0"/><circle cx="452.5" cy="974.5" r="6.7"/><circle cx="511.5" cy="902.0" r="8.0"/><circle cx="508.9" cy="926.8" r="7.2"/><circle cx="505.5" cy="955.0" r="8.0"/><circle cx="506.2" cy="979.5" r="7.5"/><circle cx="555.1" cy="922.1" r="7.7"/><circle cx="555.1" cy="954.3" r="7.2"/><circle cx="608.8" cy="860.4" r="7.2"/><circle cx="608.8" cy="892.6" r="8.2"/><circle cx="607.5" cy="924.1" r="8.2"/><circle cx="610.1" cy="957.7" r="8.2"/><circle cx="667.2" cy="871.8" r="7.7"/><circle cx="667.2" cy="882.6" r="7.0"/><circle cx="667.2" cy="892.0" r="7.0"/><circle cx="667.2" cy="913.4" r="7.0"/><circle cx="666.5" cy="922.1" r="7.7"/><circle cx="665.1" cy="949.6" r="7.2"/><circle cx="666.5" cy="980.0" r="7.7"/><circle cx="718.8" cy="902.1" r="8.0"/><circle cx="718.2" cy="912.1" r="7.2"/><circle cx="722.2" cy="954.4" r="8.0"/><circle cx="721.5" cy="981.0" r="7.2"/><circle cx="775.9" cy="967.2" r="7.7"/><circle cx="776.6" cy="977.8" r="7.7"/><circle cx="835.0" cy="900.7" r="7.0"/><circle cx="835.6" cy="922.9" r="7.2"/><circle cx="835.0" cy="932.9" r="7.2"/><circle cx="882.6" cy="906.8" r="8.4"/><circle cx="64.1" cy="1009.2" r="8.7"/><circle cx="57.4" cy="1042.7" r="8.2"/><circle cx="56.0" cy="1064.9" r="8.0"/><circle cx="54.0" cy="1097.1" r="7.0"/><circle cx="58.1" cy="1134.0" r="8.7"/><circle cx="60.1" cy="1162.0" r="8.0"/><circle cx="118.4" cy="1017.9" r="7.7"/><circle cx="107.0" cy="1062.9" r="8.2"/><circle cx="107.7" cy="1087.0" r="8.2"/><circle cx="109.7" cy="1119.2" r="8.0"/><circle cx="113.1" cy="1154.1" r="8.2"/><circle cx="156.0" cy="1102.4" r="7.7"/><circle cx="156.7" cy="1121.9" r="7.7"/><circle cx="157.3" cy="1146.0" r="8.4"/><circle cx="196.9" cy="1005.9" r="8.4"/><circle cx="198.2" cy="1035.4" r="7.2"/><circle cx="199.6" cy="1060.2" r="7.7"/><circle cx="199.6" cy="1081.0" r="8.2"/><circle cx="205.0" cy="1121.9" r="7.7"/><circle cx="207.6" cy="1149.4" r="7.7"/><circle cx="247.2" cy="995.1" r="8.2"/><circle cx="247.2" cy="1007.2" r="8.4"/><circle cx="262.0" cy="1093.0" r="8.2"/><circle cx="262.0" cy="1102.4" r="7.0"/><circle cx="262.6" cy="1136.6" r="7.2"/><circle cx="265.5" cy="1158.0" r="8.0"/><circle cx="302.9" cy="994.5" r="8.2"/><circle cx="305.6" cy="1015.9" r="8.4"/><circle cx="310.3" cy="1048.1" r="8.2"/><circle cx="309.6" cy="1070.2" r="8.2"/><circle cx="308.3" cy="1092.4" r="7.7"/><circle cx="309.6" cy="1119.9" r="7.2"/><circle cx="310.3" cy="1129.9" r="7.2"/><circle cx="311.5" cy="1162.0" r="8.2"/><circle cx="355.9" cy="1007.2" r="8.2"/><circle cx="356.6" cy="1034.7" r="7.0"/><circle cx="359.3" cy="1060.2" r="7.2"/><circle cx="361.3" cy="1096.4" r="7.2"/><circle cx="364.0" cy="1116.5" r="7.7"/><circle cx="361.9" cy="1146.0" r="7.0"/><circle cx="361.0" cy="1165.5" r="7.5"/><circle cx="403.5" cy="999.8" r="7.2"/><circle cx="402.2" cy="1031.3" r="7.2"/><circle cx="408.9" cy="1060.2" r="8.4"/><circle cx="410.9" cy="1081.6" r="8.2"/><circle cx="394.8" cy="1148.0" r="7.2"/><circle cx="452.5" cy="1000.5" r="7.0"/><circle cx="452.5" cy="1024.6" r="7.7"/><circle cx="459.2" cy="1054.8" r="8.2"/><circle cx="458.5" cy="1084.3" r="8.0"/><circle cx="457.2" cy="1108.5" r="7.2"/><circle cx="460.5" cy="1137.3" r="8.0"/><circle cx="461.2" cy="1161.8" r="7.0"/><circle cx="507.5" cy="1015.2" r="8.2"/><circle cx="507.5" cy="1040.7" r="7.7"/><circle cx="508.2" cy="1070.9" r="7.2"/><circle cx="508.2" cy="1081.0" r="7.2"/><circle cx="506.9" cy="1117.2" r="8.2"/><circle cx="506.9" cy="1142.7" r="7.7"/><circle cx="556.5" cy="986.4" r="8.0"/><circle cx="557.8" cy="1019.9" r="9.2"/><circle cx="561.2" cy="1058.8" r="8.0"/><circle cx="561.9" cy="1089.7" r="8.4"/><circle cx="559.2" cy="1119.9" r="8.0"/><circle cx="558.5" cy="1149.4" r="7.2"/><circle cx="613.5" cy="988.4" r="7.0"/><circle cx="615.5" cy="1022.0" r="8.0"/><circle cx="614.8" cy="1040.1" r="7.7"/><circle cx="612.8" cy="1069.6" r="7.2"/><circle cx="614.2" cy="1100.4" r="7.2"/><circle cx="610.8" cy="1125.9" r="7.7"/><circle cx="612.2" cy="1153.4" r="7.7"/><circle cx="667.2" cy="1009.2" r="7.7"/><circle cx="665.1" cy="1040.7" r="7.7"/><circle cx="663.8" cy="1062.9" r="8.0"/><circle cx="665.1" cy="1089.0" r="7.7"/><circle cx="664.5" cy="1115.2" r="8.2"/><circle cx="659.8" cy="1145.4" r="7.0"/><circle cx="658.4" cy="1162.0" r="7.2"/><circle cx="720.9" cy="1009.2" r="8.0"/><circle cx="720.9" cy="1036.1" r="7.2"/><circle cx="721.5" cy="1062.2" r="7.2"/><circle cx="724.2" cy="1118.6" r="7.0"/><circle cx="721.5" cy="1128.7" r="8.2"/><circle cx="716.8" cy="1140.8" r="9.7"/><circle cx="776.6" cy="990.4" r="8.2"/><circle cx="777.2" cy="1018.6" r="9.4"/><circle cx="778.6" cy="1052.9" r="7.7"/><circle cx="779.9" cy="1077.7" r="8.4"/><circle cx="777.2" cy="1101.8" r="7.7"/><circle cx="776.6" cy="1130.0" r="9.2"/><circle cx="765.3" cy="1159.0" r="7.2"/><circle cx="839.0" cy="995.1" r="7.7"/><circle cx="839.0" cy="1009.9" r="10.2"/><circle cx="839.0" cy="1048.8" r="7.2"/><circle cx="841.0" cy="1078.4" r="8.9"/><circle cx="835.6" cy="1107.9" r="8.4"/><circle cx="826.2" cy="1135.4" r="9.9"/><circle cx="820.0" cy="1165.0" r="7.7"/><circle cx="894.7" cy="1009.9" r="7.7"/><circle cx="881.9" cy="1107.2" r="7.2"/><circle cx="880.6" cy="1115.9" r="7.2"/><circle cx="875.9" cy="1138.1" r="9.4"/><circle cx="61.4" cy="1190.4" r="7.5"/><circle cx="62.8" cy="1221.4" r="6.7"/><circle cx="63.5" cy="1247.5" r="7.2"/><circle cx="64.9" cy="1282.9" r="9.2"/><circle cx="64.9" cy="1315.3" r="7.2"/><circle cx="62.1" cy="1328.0" r="7.7"/><circle cx="115.1" cy="1196.0" r="7.7"/><circle cx="115.1" cy="1208.0" r="7.7"/><circle cx="117.9" cy="1243.3" r="7.7"/><circle cx="116.5" cy="1256.7" r="7.7"/><circle cx="117.9" cy="1282.9" r="8.4"/><circle cx="118.6" cy="1316.1" r="7.2"/><circle cx="119.3" cy="1356.0" r="6.7"/><circle cx="159.6" cy="1175.5" r="8.4"/><circle cx="162.4" cy="1206.6" r="9.7"/><circle cx="168.0" cy="1233.4" r="7.2"/><circle cx="168.7" cy="1261.7" r="7.2"/><circle cx="168.7" cy="1297.7" r="7.2"/><circle cx="169.4" cy="1332.3" r="8.2"/><circle cx="172.3" cy="1355.5" r="7.2"/><circle cx="210.4" cy="1172.0" r="7.2"/><circle cx="214.7" cy="1214.4" r="9.2"/><circle cx="220.3" cy="1243.3" r="7.5"/><circle cx="218.9" cy="1271.6" r="8.2"/><circle cx="221.7" cy="1301.9" r="7.5"/><circle cx="223.1" cy="1323.1" r="7.2"/><circle cx="225.3" cy="1347.9" r="6.7"/><circle cx="268.4" cy="1181.9" r="7.5"/><circle cx="268.4" cy="1193.2" r="7.5"/><circle cx="269.8" cy="1217.9" r="7.7"/><circle cx="311.4" cy="1180.5" r="7.2"/><circle cx="363.0" cy="1192.5" r="7.7"/><circle cx="362.3" cy="1219.3" r="7.7"/><circle cx="360.1" cy="1241.2" r="7.7"/><circle cx="359.4" cy="1261.7" r="7.7"/><circle cx="358.0" cy="1282.2" r="7.2"/><circle cx="353.0" cy="1300.0" r="7.7"/><circle cx="353.0" cy="1312.0" r="7.7"/><circle cx="350.3" cy="1340.0" r="7.2"/><circle cx="346.7" cy="1356.0" r="7.2"/><circle cx="415.2" cy="1205.2" r="8.2"/><circle cx="415.9" cy="1215.8" r="7.5"/><circle cx="413.1" cy="1244.0" r="8.7"/><circle cx="408.9" cy="1307.6" r="7.2"/><circle cx="404.6" cy="1333.7" r="8.7"/><circle cx="459.0" cy="1186.1" r="7.2"/><circle cx="459.7" cy="1215.1" r="6.7"/><circle cx="460.4" cy="1242.6" r="7.2"/><circle cx="461.1" cy="1274.4" r="6.7"/><circle cx="456.9" cy="1303.3" r="8.4"/><circle cx="454.8" cy="1322.4" r="7.2"/><circle cx="451.2" cy="1354.0" r="7.2"/><circle cx="506.4" cy="1176.2" r="7.7"/><circle cx="506.4" cy="1186.1" r="6.7"/><circle cx="507.8" cy="1229.9" r="8.7"/><circle cx="508.5" cy="1261.7" r="7.5"/><circle cx="503.5" cy="1303.3" r="7.7"/><circle cx="501.4" cy="1315.3" r="8.4"/><circle cx="556.5" cy="1174.8" r="7.5"/><circle cx="557.2" cy="1198.1" r="7.5"/><circle cx="557.9" cy="1220.7" r="7.2"/><circle cx="559.3" cy="1245.4" r="8.2"/><circle cx="609.4" cy="1177.7" r="7.2"/><circle cx="607.3" cy="1207.3" r="8.2"/><circle cx="605.9" cy="1237.0" r="8.2"/><circle cx="605.9" cy="1263.8" r="7.5"/><circle cx="605.2" cy="1291.3" r="8.2"/><circle cx="605.2" cy="1322.4" r="9.2"/><circle cx="604.5" cy="1335.1" r="6.7"/><circle cx="657.5" cy="1195.3" r="7.7"/><circle cx="654.7" cy="1223.6" r="7.2"/><circle cx="651.1" cy="1253.2" r="8.2"/><circle cx="650.4" cy="1288.5" r="6.7"/><circle cx="653.2" cy="1352.0" r="8.7"/><circle cx="708.2" cy="1172.7" r="7.7"/><circle cx="704.7" cy="1196.0" r="7.7"/><circle cx="699.8" cy="1237.0" r="7.2"/><circle cx="701.2" cy="1261.7" r="7.5"/><circle cx="700.5" cy="1286.4" r="7.7"/><circle cx="697.6" cy="1315.4" r="7.2"/><circle cx="699.8" cy="1341.5" r="7.2"/><circle cx="759.1" cy="1179.8" r="7.7"/><circle cx="756.3" cy="1201.7" r="7.7"/><circle cx="749.9" cy="1229.2" r="8.7"/><circle cx="747.1" cy="1262.4" r="7.5"/><circle cx="747.1" cy="1280.0" r="8.4"/><circle cx="747.8" cy="1314.0" r="7.2"/><circle cx="749.9" cy="1336.5" r="8.2"/><circle cx="750.6" cy="1356.0" r="7.2"/><circle cx="817.0" cy="1185.4" r="8.4"/><circle cx="810.6" cy="1212.3" r="7.7"/><circle cx="808.5" cy="1242.6" r="8.2"/><circle cx="807.1" cy="1275.8" r="8.4"/><circle cx="804.3" cy="1316.1" r="7.5"/><circle cx="808.5" cy="1352.1" r="7.5"/><circle cx="865.0" cy="1175.5" r="8.4"/><circle cx="863.6" cy="1186.8" r="7.5"/><circle cx="862.9" cy="1226.4" r="8.4"/><circle cx="865.0" cy="1249.7" r="8.2"/><circle cx="865.0" cy="1283.6" r="7.7"/><circle cx="865.7" cy="1299.8" r="6.7"/><circle cx="866.4" cy="1310.4" r="7.5"/><circle cx="866.4" cy="1321.0" r="8.2"/></g>
<g filter="url(#soft)"><circle cx="66.8" cy="800.7" r="5.70" fill="#f0f0f0"/><circle cx="122.5" cy="808.1" r="5.00" fill="#f0f0f0"/><circle cx="176.1" cy="795.4" r="5.00" fill="#f0f0f0"/><circle cx="231.8" cy="796.7" r="6.00" fill="#d4d4d4"/><circle cx="180.1" cy="822.2" r="5.75" fill="#f0f0f0"/><circle cx="235.8" cy="824.2" r="5.00" fill="#f0f0f0"/><polygon points="175.2,851.0 185.5,845.0 185.5,857.0" fill="#c8c8c8" stroke="#c8c8c8" stroke-width="1.5" stroke-linejoin="round"/><circle cx="239.2" cy="862.4" r="6.00" fill="#f0f0f0"/><circle cx="183.8" cy="878.5" r="4.75" fill="#f0f0f0"/><polygon points="76.2,885.0 81.6,894.4 70.8,894.4" fill="#c8c8c8" stroke="#c8c8c8" stroke-width="1.5" stroke-linejoin="round"/><circle cx="129.2" cy="889.3" r="5.00" fill="#f0f0f0"/><circle cx="240.5" cy="896.0" r="4.75" fill="#f0f0f0"/><circle cx="188.2" cy="909.4" r="5.50" fill="#f0f0f0"/><circle cx="78.2" cy="922.1" r="5.70" fill="#f0f0f0"/><circle cx="129.8" cy="918.8" r="6.50" fill="#f0f0f0"/><circle cx="243.9" cy="924.1" r="6.00" fill="#f0f0f0"/><circle cx="191.5" cy="943.6" r="4.75" fill="#d4d4d4"/><circle cx="131.8" cy="947.6" r="5.00" fill="#f0f0f0"/><circle cx="72.8" cy="959.7" r="5.50" fill="#f0f0f0"/><circle cx="72.1" cy="970.4" r="5.50" fill="#f0f0f0"/><circle cx="245.9" cy="948.0" r="5.50" fill="#f0f0f0"/><circle cx="245.9" cy="957.0" r="5.50" fill="#f0f0f0"/><circle cx="245.9" cy="964.4" r="4.75" fill="#f0f0f0"/><circle cx="193.5" cy="963.0" r="5.00" fill="#f0f0f0"/><circle cx="186.8" cy="953.0" r="4.00" fill="#6e6e6e"/><circle cx="129.8" cy="971.1" r="5.00" fill="#f0f0f0"/><circle cx="289.5" cy="813.5" r="5.00" fill="#f0f0f0"/><circle cx="290.8" cy="837.0" r="4.75" fill="#f0f0f0"/><circle cx="292.2" cy="864.5" r="4.75" fill="#f0f0f0"/><circle cx="294.2" cy="883.2" r="6.00" fill="#d4d4d4"/><circle cx="295.5" cy="919.5" r="5.50" fill="#f0f0f0"/><circle cx="298.2" cy="942.3" r="4.50" fill="#d4d4d4"/><circle cx="301.6" cy="969.1" r="5.75" fill="#f0f0f0"/><circle cx="337.8" cy="794.0" r="5.00" fill="#f0f0f0"/><circle cx="336.5" cy="814.1" r="5.50" fill="#f0f0f0"/><circle cx="338.5" cy="843.7" r="5.75" fill="#f0f0f0"/><circle cx="343.2" cy="889.3" r="5.75" fill="#f0f0f0"/><circle cx="342.5" cy="877.2" r="5.00" fill="#6e6e6e"/><circle cx="347.9" cy="919.5" r="5.50" fill="#f0f0f0"/><circle cx="353.2" cy="944.3" r="5.75" fill="#d4d4d4"/><circle cx="354.6" cy="977.0" r="5.00" fill="#f0f0f0"/><circle cx="390.1" cy="796.0" r="5.00" fill="#f0f0f0"/><circle cx="392.1" cy="823.5" r="6.25" fill="#f0f0f0"/><circle cx="393.5" cy="853.0" r="6.00" fill="#f0f0f0"/><circle cx="396.1" cy="884.6" r="5.50" fill="#f0f0f0"/><circle cx="398.2" cy="907.4" r="6.00" fill="#d4d4d4"/><circle cx="400.8" cy="940.2" r="6.00" fill="#f0f0f0"/><polygon points="396.0,967.7 407.2,961.2 407.2,974.2" fill="#c8c8c8" stroke="#c8c8c8" stroke-width="1.5" stroke-linejoin="round"/><circle cx="441.8" cy="802.7" r="5.50" fill="#f0f0f0"/><circle cx="444.4" cy="869.1" r="5.00" fill="#f0f0f0"/><circle cx="444.4" cy="879.2" r="5.00" fill="#f0f0f0"/><circle cx="463.2" cy="932.2" r="5.75" fill="#f0f0f0"/><circle cx="454.5" cy="966.4" r="4.75" fill="#f0f0f0"/><circle cx="452.5" cy="974.5" r="4.50" fill="#f0f0f0"/><circle cx="511.5" cy="902.0" r="5.75" fill="#f0f0f0"/><circle cx="508.9" cy="926.8" r="5.00" fill="#f0f0f0"/><circle cx="505.5" cy="955.0" r="5.75" fill="#f0f0f0"/><circle cx="506.2" cy="979.5" r="5.25" fill="#f0f0f0"/><circle cx="555.1" cy="922.1" r="5.50" fill="#f0f0f0"/><circle cx="555.1" cy="954.3" r="5.00" fill="#f0f0f0"/><circle cx="608.8" cy="860.4" r="5.00" fill="#f0f0f0"/><circle cx="608.8" cy="892.6" r="6.00" fill="#d4d4d4"/><circle cx="607.5" cy="924.1" r="6.00" fill="#f0f0f0"/><circle cx="610.1" cy="957.7" r="6.00" fill="#f0f0f0"/><circle cx="667.2" cy="871.8" r="5.50" fill="#f0f0f0"/><circle cx="667.2" cy="882.6" r="4.75" fill="#d4d4d4"/><circle cx="667.2" cy="892.0" r="4.75" fill="#f0f0f0"/><circle cx="667.2" cy="913.4" r="4.75" fill="#f0f0f0"/><circle cx="666.5" cy="922.1" r="5.50" fill="#f0f0f0"/><circle cx="665.1" cy="949.6" r="5.00" fill="#f0f0f0"/><circle cx="666.5" cy="980.0" r="5.50" fill="#f0f0f0"/><circle cx="718.8" cy="902.1" r="5.75" fill="#f0f0f0"/><circle cx="718.2" cy="912.1" r="5.00" fill="#f0f0f0"/><circle cx="722.2" cy="954.4" r="5.75" fill="#d4d4d4"/><circle cx="721.5" cy="981.0" r="5.00" fill="#f0f0f0"/><circle cx="775.9" cy="967.2" r="5.50" fill="#f0f0f0"/><circle cx="776.6" cy="977.8" r="5.50" fill="#f0f0f0"/><circle cx="835.0" cy="900.7" r="4.75" fill="#f0f0f0"/><circle cx="835.6" cy="922.9" r="5.00" fill="#f0f0f0"/><circle cx="835.0" cy="932.9" r="5.00" fill="#f0f0f0"/><circle cx="882.6" cy="906.8" r="6.25" fill="#f0f0f0"/><polygon points="64.1,1017.3 57.1,1005.1 71.1,1005.1" fill="#c8c8c8" stroke="#c8c8c8" stroke-width="1.5" stroke-linejoin="round"/><circle cx="57.4" cy="1042.7" r="6.00" fill="#f0f0f0"/><circle cx="56.0" cy="1064.9" r="5.75" fill="#f0f0f0"/><circle cx="54.0" cy="1097.1" r="4.75" fill="#d4d4d4"/><circle cx="58.1" cy="1134.0" r="6.50" fill="#d4d4d4"/><circle cx="60.1" cy="1162.0" r="5.75" fill="#f0f0f0"/><circle cx="118.4" cy="1017.9" r="5.50" fill="#f0f0f0"/><circle cx="107.0" cy="1062.9" r="6.00" fill="#d4d4d4"/><circle cx="107.7" cy="1087.0" r="6.00" fill="#f0f0f0"/><circle cx="109.7" cy="1119.2" r="5.75" fill="#f0f0f0"/><circle cx="113.1" cy="1154.1" r="6.00" fill="#f0f0f0"/><circle cx="156.0" cy="1102.4" r="5.50" fill="#f0f0f0"/><circle cx="156.7" cy="1121.9" r="5.50" fill="#d4d4d4"/><circle cx="157.3" cy="1146.0" r="6.25" fill="#f0f0f0"/><circle cx="196.9" cy="1005.9" r="6.25" fill="#d4d4d4"/><circle cx="198.2" cy="1035.4" r="5.00" fill="#f0f0f0"/><circle cx="199.6" cy="1060.2" r="5.50" fill="#f0f0f0"/><circle cx="199.6" cy="1081.0" r="6.00" fill="#d4d4d4"/><circle cx="205.0" cy="1121.9" r="5.50" fill="#f0f0f0"/><circle cx="207.6" cy="1149.4" r="5.50" fill="#f0f0f0"/><circle cx="247.2" cy="995.1" r="6.00" fill="#f0f0f0"/><circle cx="247.2" cy="1007.2" r="6.25" fill="#d4d4d4"/><polygon points="254.5,1093.0 265.8,1086.5 265.8,1099.5" fill="#c8c8c8" stroke="#c8c8c8" stroke-width="1.5" stroke-linejoin="round"/><circle cx="262.0" cy="1102.4" r="4.75" fill="#f0f0f0"/><circle cx="262.6" cy="1136.6" r="5.00" fill="#f0f0f0"/><circle cx="265.5" cy="1158.0" r="5.75" fill="#f0f0f0"/><circle cx="302.9" cy="994.5" r="6.00" fill="#f0f0f0"/><circle cx="305.6" cy="1015.9" r="6.25" fill="#f0f0f0"/><circle cx="310.3" cy="1048.1" r="6.00" fill="#d4d4d4"/><circle cx="309.6" cy="1070.2" r="6.00" fill="#f0f0f0"/><circle cx="308.3" cy="1092.4" r="5.50" fill="#f0f0f0"/><circle cx="309.6" cy="1119.9" r="5.00" fill="#f0f0f0"/><circle cx="310.3" cy="1129.9" r="5.00" fill="#f0f0f0"/><circle cx="311.5" cy="1162.0" r="6.00" fill="#d4d4d4"/><circle cx="355.9" cy="1007.2" r="6.00" fill="#f0f0f0"/><circle cx="356.6" cy="1034.7" r="4.75" fill="#f0f0f0"/><circle cx="359.3" cy="1060.2" r="5.00" fill="#f0f0f0"/><circle cx="361.3" cy="1096.4" r="5.00" fill="#f0f0f0"/><circle cx="364.0" cy="1116.5" r="5.50" fill="#f0f0f0"/><circle cx="361.9" cy="1146.0" r="4.75" fill="#f0f0f0"/><circle cx="361.0" cy="1165.5" r="5.25" fill="#f0f0f0"/><circle cx="403.5" cy="999.8" r="5.00" fill="#f0f0f0"/><circle cx="402.2" cy="1031.3" r="5.00" fill="#f0f0f0"/><circle cx="408.9" cy="1060.2" r="6.25" fill="#d4d4d4"/><circle cx="410.9" cy="1081.6" r="6.00" fill="#f0f0f0"/><circle cx="394.8" cy="1148.0" r="5.00" fill="#f0f0f0"/><circle cx="452.5" cy="1000.5" r="4.75" fill="#f0f0f0"/><circle cx="452.5" cy="1024.6" r="5.50" fill="#f0f0f0"/><circle cx="459.2" cy="1054.8" r="6.00" fill="#f0f0f0"/><circle cx="458.5" cy="1084.3" r="5.75" fill="#f0f0f0"/><circle cx="457.2" cy="1108.5" r="5.00" fill="#f0f0f0"/><circle cx="460.5" cy="1137.3" r="5.75" fill="#f0f0f0"/><circle cx="461.2" cy="1161.8" r="4.75" fill="#f0f0f0"/><circle cx="507.5" cy="1015.2" r="6.00" fill="#d4d4d4"/><circle cx="507.5" cy="1040.7" r="5.50" fill="#f0f0f0"/><circle cx="508.2" cy="1070.9" r="5.00" fill="#f0f0f0"/><circle cx="508.2" cy="1081.0" r="5.00" fill="#f0f0f0"/><circle cx="506.9" cy="1117.2" r="6.00" fill="#f0f0f0"/><circle cx="506.9" cy="1142.7" r="5.50" fill="#f0f0f0"/><circle cx="556.5" cy="986.4" r="5.75" fill="#f0f0f0"/><circle cx="557.8" cy="1019.9" r="7.00" fill="#d4d4d4"/><circle cx="561.2" cy="1058.8" r="5.75" fill="#f0f0f0"/><circle cx="561.9" cy="1089.7" r="6.25" fill="#f0f0f0"/><circle cx="559.2" cy="1119.9" r="5.75" fill="#f0f0f0"/><circle cx="558.5" cy="1149.4" r="5.00" fill="#f0f0f0"/><circle cx="613.5" cy="988.4" r="4.75" fill="#f0f0f0"/><circle cx="615.5" cy="1022.0" r="5.75" fill="#f0f0f0"/><circle cx="614.8" cy="1040.1" r="5.50" fill="#f0f0f0"/><circle cx="612.8" cy="1069.6" r="5.00" fill="#f0f0f0"/><circle cx="614.2" cy="1100.4" r="5.00" fill="#f0f0f0"/><circle cx="610.8" cy="1125.9" r="5.50" fill="#f0f0f0"/><circle cx="612.2" cy="1153.4" r="5.50" fill="#f0f0f0"/><circle cx="667.2" cy="1009.2" r="5.50" fill="#f0f0f0"/><circle cx="665.1" cy="1040.7" r="5.50" fill="#f0f0f0"/><circle cx="663.8" cy="1062.9" r="5.75" fill="#f0f0f0"/><circle cx="665.1" cy="1089.0" r="5.50" fill="#f0f0f0"/><circle cx="664.5" cy="1115.2" r="6.00" fill="#f0f0f0"/><circle cx="659.8" cy="1145.4" r="4.75" fill="#f0f0f0"/><circle cx="658.4" cy="1162.0" r="5.00" fill="#d4d4d4"/><circle cx="720.9" cy="1009.2" r="5.75" fill="#f0f0f0"/><circle cx="720.9" cy="1036.1" r="5.00" fill="#f0f0f0"/><circle cx="721.5" cy="1062.2" r="5.00" fill="#f0f0f0"/><circle cx="724.2" cy="1118.6" r="4.75" fill="#f0f0f0"/><circle cx="721.5" cy="1128.7" r="6.00" fill="#f0f0f0"/><circle cx="716.8" cy="1140.8" r="7.50" fill="#d4d4d4"/><circle cx="776.6" cy="990.4" r="6.00" fill="#d4d4d4"/><circle cx="777.2" cy="1018.6" r="7.25" fill="#f0f0f0"/><circle cx="778.6" cy="1052.9" r="5.50" fill="#d4d4d4"/><circle cx="779.9" cy="1077.7" r="6.25" fill="#f0f0f0"/><circle cx="777.2" cy="1101.8" r="5.50" fill="#f0f0f0"/><circle cx="776.6" cy="1130.0" r="7.00" fill="#f0f0f0"/><circle cx="765.3" cy="1159.0" r="5.00" fill="#f0f0f0"/><circle cx="839.0" cy="995.1" r="5.50" fill="#f0f0f0"/><circle cx="839.0" cy="1009.9" r="8.00" fill="#f0f0f0"/><circle cx="839.0" cy="1048.8" r="5.00" fill="#f0f0f0"/><circle cx="841.0" cy="1078.4" r="6.75" fill="#f0f0f0"/><polygon points="835.6,1115.7 828.8,1104.0 842.4,1104.0" fill="#c8c8c8" stroke="#c8c8c8" stroke-width="1.5" stroke-linejoin="round"/><circle cx="826.2" cy="1135.4" r="7.75" fill="#f0f0f0"/><circle cx="820.0" cy="1165.0" r="5.50" fill="#f0f0f0"/><circle cx="894.7" cy="1009.9" r="5.50" fill="#f0f0f0"/><circle cx="881.9" cy="1107.2" r="5.00" fill="#f0f0f0"/><circle cx="880.6" cy="1115.9" r="5.00" fill="#f0f0f0"/><circle cx="875.9" cy="1138.1" r="7.25" fill="#f0f0f0"/><circle cx="61.4" cy="1190.4" r="5.25" fill="#f0f0f0"/><circle cx="62.8" cy="1221.4" r="4.50" fill="#f0f0f0"/><circle cx="63.5" cy="1247.5" r="5.00" fill="#f0f0f0"/><circle cx="64.9" cy="1282.9" r="7.00" fill="#d4d4d4"/><circle cx="64.9" cy="1315.3" r="5.00" fill="#d4d4d4"/><circle cx="62.1" cy="1328.0" r="5.50" fill="#d4d4d4"/><circle cx="115.1" cy="1196.0" r="5.50" fill="#f0f0f0"/><circle cx="115.1" cy="1208.0" r="5.50" fill="#f0f0f0"/><circle cx="117.9" cy="1243.3" r="5.50" fill="#f0f0f0"/><circle cx="116.5" cy="1256.7" r="5.50" fill="#f0f0f0"/><circle cx="117.9" cy="1282.9" r="6.25" fill="#f0f0f0"/><circle cx="118.6" cy="1316.1" r="5.00" fill="#f0f0f0"/><circle cx="119.3" cy="1356.0" r="4.50" fill="#f0f0f0"/><circle cx="159.6" cy="1175.5" r="6.25" fill="#d4d4d4"/><circle cx="162.4" cy="1206.6" r="7.50" fill="#d4d4d4"/><circle cx="168.0" cy="1233.4" r="5.00" fill="#f0f0f0"/><circle cx="168.7" cy="1261.7" r="5.00" fill="#f0f0f0"/><circle cx="168.7" cy="1297.7" r="5.00" fill="#f0f0f0"/><circle cx="169.4" cy="1332.3" r="6.00" fill="#d4d4d4"/><circle cx="172.3" cy="1355.5" r="5.00" fill="#f0f0f0"/><circle cx="210.4" cy="1172.0" r="5.00" fill="#f0f0f0"/><circle cx="214.7" cy="1214.4" r="7.00" fill="#d4d4d4"/><circle cx="220.3" cy="1243.3" r="5.25" fill="#f0f0f0"/><circle cx="218.9" cy="1271.6" r="6.00" fill="#d4d4d4"/><circle cx="221.7" cy="1301.9" r="5.25" fill="#f0f0f0"/><circle cx="223.1" cy="1323.1" r="5.00" fill="#f0f0f0"/><circle cx="225.3" cy="1347.9" r="4.50" fill="#f0f0f0"/><circle cx="268.4" cy="1181.9" r="5.25" fill="#f0f0f0"/><circle cx="268.4" cy="1193.2" r="5.25" fill="#f0f0f0"/><circle cx="269.8" cy="1217.9" r="5.50" fill="#f0f0f0"/><circle cx="311.4" cy="1180.5" r="5.00" fill="#f0f0f0"/><circle cx="363.0" cy="1192.5" r="5.50" fill="#d4d4d4"/><circle cx="362.3" cy="1219.3" r="5.50" fill="#f0f0f0"/><circle cx="360.1" cy="1241.2" r="5.50" fill="#f0f0f0"/><circle cx="359.4" cy="1261.7" r="5.50" fill="#f0f0f0"/><circle cx="358.0" cy="1282.2" r="5.00" fill="#f0f0f0"/><circle cx="353.0" cy="1300.0" r="5.50" fill="#f0f0f0"/><circle cx="353.0" cy="1312.0" r="5.50" fill="#f0f0f0"/><circle cx="350.3" cy="1340.0" r="5.00" fill="#f0f0f0"/><circle cx="346.7" cy="1356.0" r="5.00" fill="#f0f0f0"/><circle cx="415.2" cy="1205.2" r="6.00" fill="#f0f0f0"/><circle cx="415.9" cy="1215.8" r="5.25" fill="#f0f0f0"/><circle cx="413.1" cy="1244.0" r="6.50" fill="#d4d4d4"/><circle cx="408.9" cy="1307.6" r="5.00" fill="#f0f0f0"/><circle cx="404.6" cy="1333.7" r="6.50" fill="#d4d4d4"/><circle cx="459.0" cy="1186.1" r="5.00" fill="#f0f0f0"/><circle cx="459.7" cy="1215.1" r="4.50" fill="#f0f0f0"/><circle cx="460.4" cy="1242.6" r="5.00" fill="#f0f0f0"/><circle cx="461.1" cy="1274.4" r="4.50" fill="#d4d4d4"/><circle cx="456.9" cy="1303.3" r="6.25" fill="#f0f0f0"/><circle cx="454.8" cy="1322.4" r="5.00" fill="#f0f0f0"/><circle cx="451.2" cy="1354.0" r="5.00" fill="#f0f0f0"/><circle cx="506.4" cy="1176.2" r="5.50" fill="#f0f0f0"/><circle cx="506.4" cy="1186.1" r="4.50" fill="#f0f0f0"/><circle cx="507.8" cy="1229.9" r="6.50" fill="#d4d4d4"/><circle cx="508.5" cy="1261.7" r="5.25" fill="#f0f0f0"/><circle cx="503.5" cy="1303.3" r="5.50" fill="#d4d4d4"/><circle cx="501.4" cy="1315.3" r="6.25" fill="#f0f0f0"/><circle cx="556.5" cy="1174.8" r="5.25" fill="#f0f0f0"/><circle cx="557.2" cy="1198.1" r="5.25" fill="#f0f0f0"/><circle cx="557.9" cy="1220.7" r="5.00" fill="#d4d4d4"/><circle cx="559.3" cy="1245.4" r="6.00" fill="#d4d4d4"/><circle cx="609.4" cy="1177.7" r="5.00" fill="#f0f0f0"/><circle cx="607.3" cy="1207.3" r="6.00" fill="#d4d4d4"/><circle cx="605.9" cy="1237.0" r="6.00" fill="#d4d4d4"/><circle cx="605.9" cy="1263.8" r="5.25" fill="#f0f0f0"/><circle cx="605.2" cy="1291.3" r="6.00" fill="#f0f0f0"/><circle cx="605.2" cy="1322.4" r="7.00" fill="#d4d4d4"/><circle cx="604.5" cy="1335.1" r="4.50" fill="#f0f0f0"/><circle cx="657.5" cy="1195.3" r="5.50" fill="#f0f0f0"/><circle cx="654.7" cy="1223.6" r="5.00" fill="#f0f0f0"/><circle cx="651.1" cy="1253.2" r="6.00" fill="#f0f0f0"/><circle cx="650.4" cy="1288.5" r="4.50" fill="#f0f0f0"/><circle cx="653.2" cy="1352.0" r="6.50" fill="#d4d4d4"/><circle cx="708.2" cy="1172.7" r="5.50" fill="#f0f0f0"/><circle cx="704.7" cy="1196.0" r="5.50" fill="#f0f0f0"/><circle cx="699.8" cy="1237.0" r="5.00" fill="#d4d4d4"/><circle cx="701.2" cy="1261.7" r="5.25" fill="#f0f0f0"/><circle cx="700.5" cy="1286.4" r="5.50" fill="#f0f0f0"/><circle cx="697.6" cy="1315.4" r="5.00" fill="#f0f0f0"/><circle cx="699.8" cy="1341.5" r="5.00" fill="#f0f0f0"/><circle cx="759.1" cy="1179.8" r="5.50" fill="#f0f0f0"/><circle cx="756.3" cy="1201.7" r="5.50" fill="#f0f0f0"/><circle cx="749.9" cy="1229.2" r="6.50" fill="#d4d4d4"/><circle cx="747.1" cy="1262.4" r="5.25" fill="#f0f0f0"/><circle cx="747.1" cy="1280.0" r="6.25" fill="#f0f0f0"/><circle cx="747.8" cy="1314.0" r="5.00" fill="#f0f0f0"/><circle cx="749.9" cy="1336.5" r="6.00" fill="#f0f0f0"/><circle cx="750.6" cy="1356.0" r="5.00" fill="#f0f0f0"/><circle cx="817.0" cy="1185.4" r="6.25" fill="#f0f0f0"/><circle cx="810.6" cy="1212.3" r="5.50" fill="#d4d4d4"/><circle cx="808.5" cy="1242.6" r="6.00" fill="#d4d4d4"/><circle cx="807.1" cy="1275.8" r="6.25" fill="#d4d4d4"/><circle cx="804.3" cy="1316.1" r="5.25" fill="#f0f0f0"/><circle cx="808.5" cy="1352.1" r="5.25" fill="#f0f0f0"/><circle cx="865.0" cy="1175.5" r="6.25" fill="#d4d4d4"/><circle cx="863.6" cy="1186.8" r="5.25" fill="#f0f0f0"/><circle cx="862.9" cy="1226.4" r="6.25" fill="#d4d4d4"/><circle cx="865.0" cy="1249.7" r="6.00" fill="#f0f0f0"/><circle cx="865.0" cy="1283.6" r="5.50" fill="#f0f0f0"/><circle cx="865.7" cy="1299.8" r="4.50" fill="#f0f0f0"/><circle cx="866.4" cy="1310.4" r="5.25" fill="#f0f0f0"/><circle cx="866.4" cy="1321.0" r="6.00" fill="#f0f0f0"/></g>
</g>
<rect x="64" y="816" width="70" height="70.4" fill="#fff"/>
<text x="81.8" y="866.2" font-size="43">c.</text>
<rect x="685.5" y="1291.6" width="171" height="20.2" fill="#000"/>
</svg>
</body></html>
